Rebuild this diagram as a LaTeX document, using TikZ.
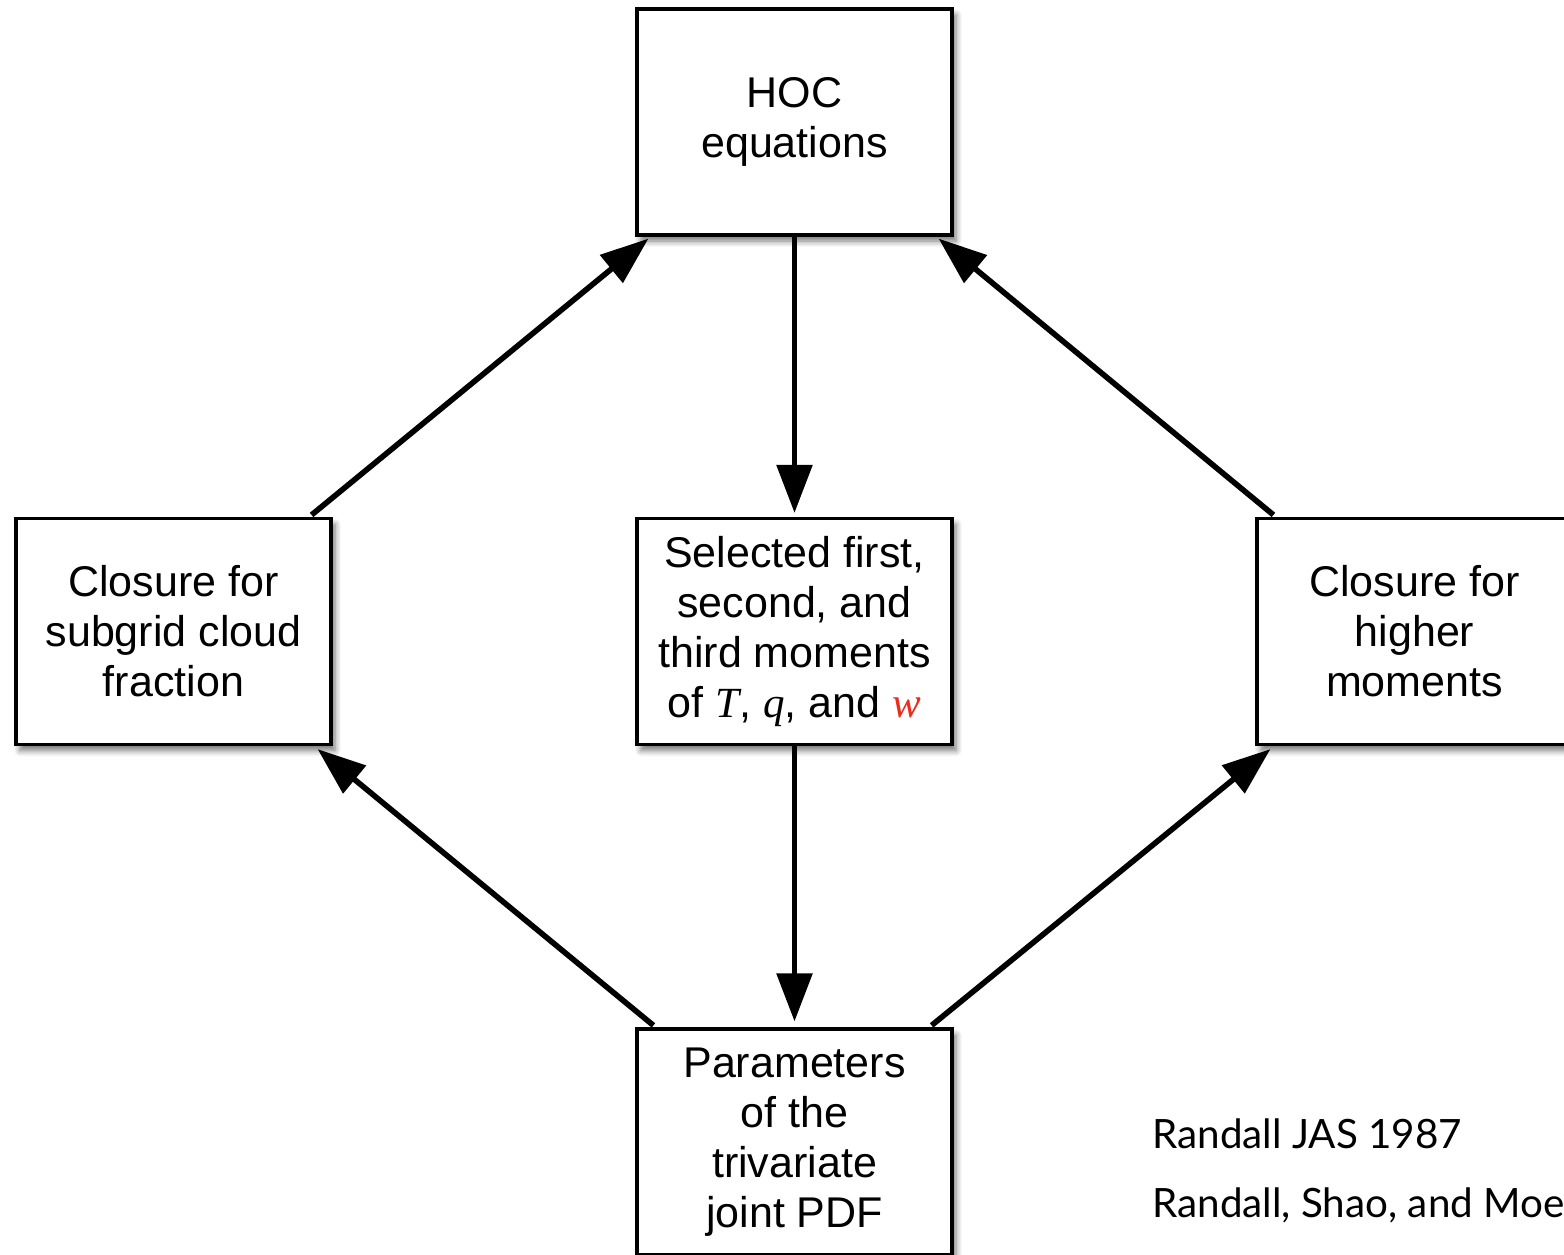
\documentclass[tikz,border=0pt]{standalone}
\usepackage{fontspec}
\setmainfont{Liberation Sans}
\newfontfamily\tmsfont{Liberation Serif}
\newfontfamily\citefont{Lato}
\usetikzlibrary{arrows.meta,shadows.blur}
\definecolor{wred}{RGB}{235,45,30}
\begin{document}
\begin{tikzpicture}[x=0.5pt,y=-0.5pt,
  box/.style={draw=black,line width=1.6pt,fill=white,minimum width=157.5pt,minimum height=113pt,
    align=center,font=\fontsize{21.5pt}{25pt}\selectfont,inner sep=0pt,
    blur shadow={shadow xshift=2pt,shadow yshift=-3pt,shadow blur steps=6,shadow blur radius=3pt,shadow opacity=55}},
  conn/.style={line width=2.8pt,-{Triangle[length=24pt,width=17.5pt]}},
  cite/.style={anchor=base west,inner sep=0pt,font=\citefont\fontsize{20.2pt}{24pt}\selectfont}]
\useasboundingbox (0,0) rectangle (1564,1254);
\node[box] (hoc) at (794.5,122) {HOC\\equations};
\node[box] (mid) at (794.5,631.5) {Selected first,\\second, and\\third moments\\of {\tmsfont\itshape T}, {\tmsfont\itshape q}, and {\tmsfont\itshape\color{wred}w}};
\node[box] (lft) at (173.5,631.5) {Closure for\\subgrid cloud\\fraction};
\node[box] (rgt) at (1414.5,631.5) {Closure for\\higher\\moments};
\node[box] (bot) at (794.5,1142) {Parameters\\of the\\trivariate\\joint PDF};
\draw[conn,shorten >=2pt] (hoc.south) -- (mid.north);
\draw[conn,shorten >=3pt] (mid.south) -- (bot.north);
\draw[conn] ([shift={(-21,-2)}]lft.north east) -- ([shift={(13,2)}]hoc.south west);
\draw[conn] ([shift={(18,-2)}]rgt.north west) -- ([shift={(-15,2)}]hoc.south east);
\draw[conn] ([shift={(18,-2)}]bot.north west) -- ([shift={(-15,3)}]lft.south east);
\draw[conn] ([shift={(-22,-2)}]bot.north east) -- ([shift={(15,3)}]rgt.south west);
\node[cite] (c1) at (1152,1148) {Randall JAS 1987};
\node[cite] (c2) at (1152,1217) {Randall, Shao, and Moe};
\end{tikzpicture}
\end{document}
